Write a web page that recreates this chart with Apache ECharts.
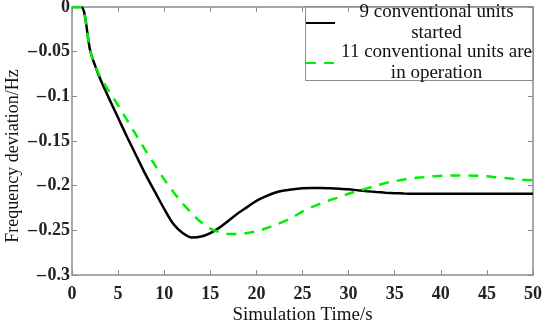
<!DOCTYPE html>
<html>
<head>
<meta charset="utf-8">
<script src="https://cdn.jsdelivr.net/npm/echarts@6/dist/echarts.min.js"></script>
<style>html,body{margin:0;padding:0;background:#fff}#c{width:550px;height:321px}</style>
</head>
<body>
<div id="c"></div>
<script>
var seriesNames = ['9 conventional units\nstarted', '11 conventional units are\nin operation'];
var time = [0, 1, 2, 3, 4, 5, 6, 7, 8, 9, 10, 11, 12, 13, 14, 15, 16, 17, 18, 19, 20, 21, 22, 23, 24, 25, 26, 27, 28, 29, 30, 31, 32, 33, 34, 35, 36, 37, 38, 39, 40, 41, 42, 43, 44, 45, 46, 47, 48, 49, 50];
var units9 = [0, 0, -0.050, -0.079, -0.102, -0.124, -0.146, -0.167, -0.188, -0.207, -0.226, -0.243, -0.253, -0.258, -0.257, -0.253, -0.247, -0.239, -0.231, -0.224, -0.217, -0.212, -0.208, -0.2055, -0.204, -0.203, -0.2025, -0.2025, -0.203, -0.2035, -0.204, -0.2052, -0.2062, -0.2071, -0.2078, -0.2084, -0.2088, -0.209, -0.209, -0.209, -0.209, -0.209, -0.209, -0.209, -0.209, -0.209, -0.209, -0.209, -0.209, -0.209, -0.209];
var units11 = [0, 0, -0.050, -0.077, -0.094, -0.110, -0.127, -0.144, -0.161, -0.177, -0.193, -0.207, -0.220, -0.231, -0.241, -0.248, -0.252, -0.254, -0.254, -0.253, -0.251, -0.248, -0.244, -0.240, -0.235, -0.229, -0.224, -0.220, -0.216, -0.213, -0.209, -0.206, -0.203, -0.200, -0.197, -0.195, -0.193, -0.1915, -0.1905, -0.1895, -0.189, -0.1885, -0.1885, -0.1885, -0.189, -0.1895, -0.1905, -0.1915, -0.1925, -0.1935, -0.194];
var xTicks = {min: 0, max: 50, interval: 5};
var yTicks = {min: -0.3, max: 0, interval: 0.05};

function pairs(xs, ys) { return xs.map(function (x, i) { return [x, ys[i]]; }); }
var axisCol = '#8c8c8c';
var serif = '"Liberation Serif", "Times New Roman", serif';
function yFmt(v) {
  if (Math.abs(v) < 1e-9) return '0';
  return '\u2013\u200a' + parseFloat(Math.abs(v).toFixed(2));
}
var chart = echarts.init(document.getElementById('c'), null, {renderer: 'canvas'});
chart.setOption({
  animation: false,
  backgroundColor: '#fff',
  grid: {left: 72, right: 17, top: 7, bottom: 46, containLabel: false, outerBoundsMode: 'none'},
  xAxis: [{
    type: 'value', min: xTicks.min, max: xTicks.max, interval: xTicks.interval,
    name: 'Simulation Time/s', nameLocation: 'middle', nameGap: 31, nameMoveOverlap: false,
    nameTextStyle: {fontFamily: serif, fontSize: 19, color: '#111'},
    axisLine: {show: true, onZero: false, lineStyle: {color: axisCol, width: 1.5}},
    axisTick: {show: true, inside: true, length: 5, lineStyle: {color: axisCol}},
    axisLabel: {fontFamily: serif, fontWeight: 'bold', fontSize: 18, color: '#222', margin: 10},
    splitLine: {show: false}
  }, {
    type: 'value', position: 'top', min: xTicks.min, max: xTicks.max, interval: xTicks.interval,
    axisLine: {show: true, onZero: false, lineStyle: {color: axisCol, width: 1.5}},
    axisTick: {show: true, inside: true, length: 5, lineStyle: {color: axisCol}},
    axisLabel: {show: false}, splitLine: {show: false}
  }],
  yAxis: [{
    type: 'value', min: yTicks.min, max: yTicks.max, interval: yTicks.interval,
    name: 'Frequency deviation/Hz', nameLocation: 'middle', nameGap: 50, nameMoveOverlap: false,
    nameTextStyle: {fontFamily: serif, fontSize: 18, color: '#111', padding: [0, 30, 0, 0]},
    axisLine: {show: true, onZero: false, lineStyle: {color: axisCol, width: 1.5}},
    axisTick: {show: true, inside: true, length: 5, lineStyle: {color: axisCol}},
    axisLabel: {fontFamily: serif, fontWeight: 'bold', fontSize: 18, color: '#222', margin: 2, formatter: yFmt},
    splitLine: {show: false}
  }, {
    type: 'value', position: 'right', min: yTicks.min, max: yTicks.max, interval: yTicks.interval,
    axisLine: {show: true, onZero: false, lineStyle: {color: axisCol, width: 1.5}},
    axisTick: {show: true, inside: true, length: 5, lineStyle: {color: axisCol}},
    axisLabel: {show: false}, splitLine: {show: false}
  }],
  legend: {
    orient: 'vertical', left: 305, top: 3, padding: 0, itemGap: 0,
    itemWidth: 29, itemHeight: 12,
    itemStyle: {opacity: 0},
    formatter: function (name) { return '{t|' + name.split('\n').join('}\n{t|') + '}'; },
    textStyle: {
      rich: {t: {width: 193, align: 'center', fontFamily: serif, fontSize: 19, lineHeight: 21, color: '#111'}}
    },
    data: seriesNames
  },
  graphic: [{
    type: 'rect', left: 305, top: 6, z: 0, silent: true,
    shape: {width: 228, height: 74},
    style: {fill: '#fff', stroke: axisCol, lineWidth: 1}
  }],
  series: [{
    name: seriesNames[0], type: 'line', data: pairs(time, units9), showSymbol: false, symbol: 'none',
    smooth: 0.3, lineStyle: {color: '#000', width: 2.5}, itemStyle: {color: '#000'}, z: 3
  }, {
    name: seriesNames[1], type: 'line', data: pairs(time, units11), showSymbol: false, symbol: 'none',
    smooth: 0.3, lineStyle: {color: '#00ee00', width: 2.5, type: [10, 8]}, itemStyle: {color: '#00ee00'}, z: 4
  }]
});
</script>
</body>
</html>
